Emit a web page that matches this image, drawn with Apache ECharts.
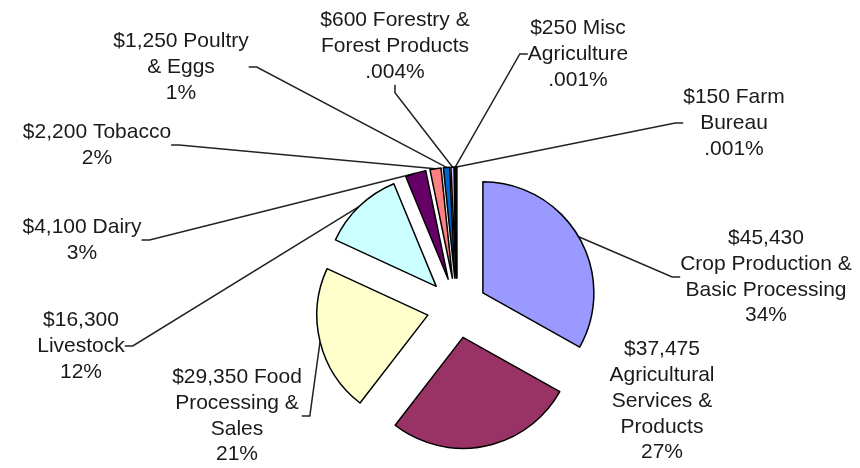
<!DOCTYPE html>
<html>
<head>
<meta charset="utf-8">
<script src="https://cdn.jsdelivr.net/npm/echarts@6/dist/echarts.min.js"></script>
<style>
html, body { margin: 0; padding: 0; background: #fff; }
#main { width: 860px; height: 468px; }
</style>
</head>
<body>
<div id="main"></div>
<script>
// categories, with the line breaks used in the labels
const categories = [
  'Crop Production &\nBasic Processing',
  'Agricultural\nServices &\nProducts',
  'Food\nProcessing &\nSales',
  'Livestock',
  'Dairy',
  'Tobacco',
  'Poultry\n& Eggs',
  'Forestry &\nForest Products',
  'Misc\nAgriculture',
  'Farm\nBureau'
];
const values = [45430, 37475, 29350, 16300, 4100, 2200, 1250, 600, 250, 150];
// percentages as printed on the chart
const pctLabels = ['34%', '27%', '21%', '12%', '3%', '2%', '1%', '.004%', '.001%', '.001%'];
// value on its own line, or followed by the name
const valueOwnLine = [true, true, false, true, false, false, false, false, false, false];

const colors = ['#9999ff', '#993366', '#ffffcc', '#ccffff', '#660066',
                '#ff8080', '#0066cc', '#ccccff', '#000080', '#000000'];
// label centres (px)
const labelPos = [[766, 277], [662, 401], [237, 416], [81, 346], [82, 240],
                  [97, 145], [181, 67], [395, 46], [578, 54], [734, 123]];

let myChart = echarts.init(document.getElementById('main'));

// exploded slices
let sliceData = values.map(function (v, i) {
  return {
    value: v,
    name: categories[i],
    selected: true,
    itemStyle: { color: colors[i] }
  };
});

// same slices, invisible, only carrying the labels
// (labelLayout is ignored on selected items)
let labelData = values.map(function (v, i) {
  return {
    value: v,
    name: categories[i],
    labelLine: { show: i !== 1 }
  };
});

let option = {
  animation: false,
  series: [
    {
      type: 'pie',
      center: [457, 308],
      radius: 111,
      startAngle: 90,
      clockwise: true,
      selectedMode: 'multiple',
      selectedOffset: 30,
      silent: true,
      data: sliceData,
      itemStyle: {
        borderColor: '#000',
        borderWidth: 1.5
      },
      select: {
        itemStyle: { borderColor: '#000', borderWidth: 1.5 }
      },
      label: { show: false },
      labelLine: { show: false }
    },
    {
      type: 'pie',
      center: [457, 308],
      radius: 141,
      startAngle: 90,
      clockwise: true,
      silent: true,
      avoidLabelOverlap: false,
      data: labelData,
      itemStyle: {
        color: 'rgba(0,0,0,0)',
        borderWidth: 0
      },
      label: {
        show: true,
        position: 'outside',
        color: '#1a1a1a',
        fontFamily: 'Liberation Sans',
        fontSize: 21,
        lineHeight: 25.8,
        align: 'center',
        formatter: function (p) {
          let i = p.dataIndex;
          let head = '$' + values[i].toLocaleString('en-US');
          return head + (valueOwnLine[i] ? '\n' : ' ') + categories[i] + '\n' + pctLabels[i];
        }
      },
      labelLine: {
        show: true,
        length: 10,
        length2: 8,
        lineStyle: { color: '#222', width: 1.5 }
      },
      labelLayout: function (params) {
        let p = labelPos[params.dataIndex];
        return {
          x: p[0],
          y: p[1],
          align: 'center',
          verticalAlign: 'middle'
        };
      }
    }
  ]
};

myChart.setOption(option);
</script>
</body>
</html>
